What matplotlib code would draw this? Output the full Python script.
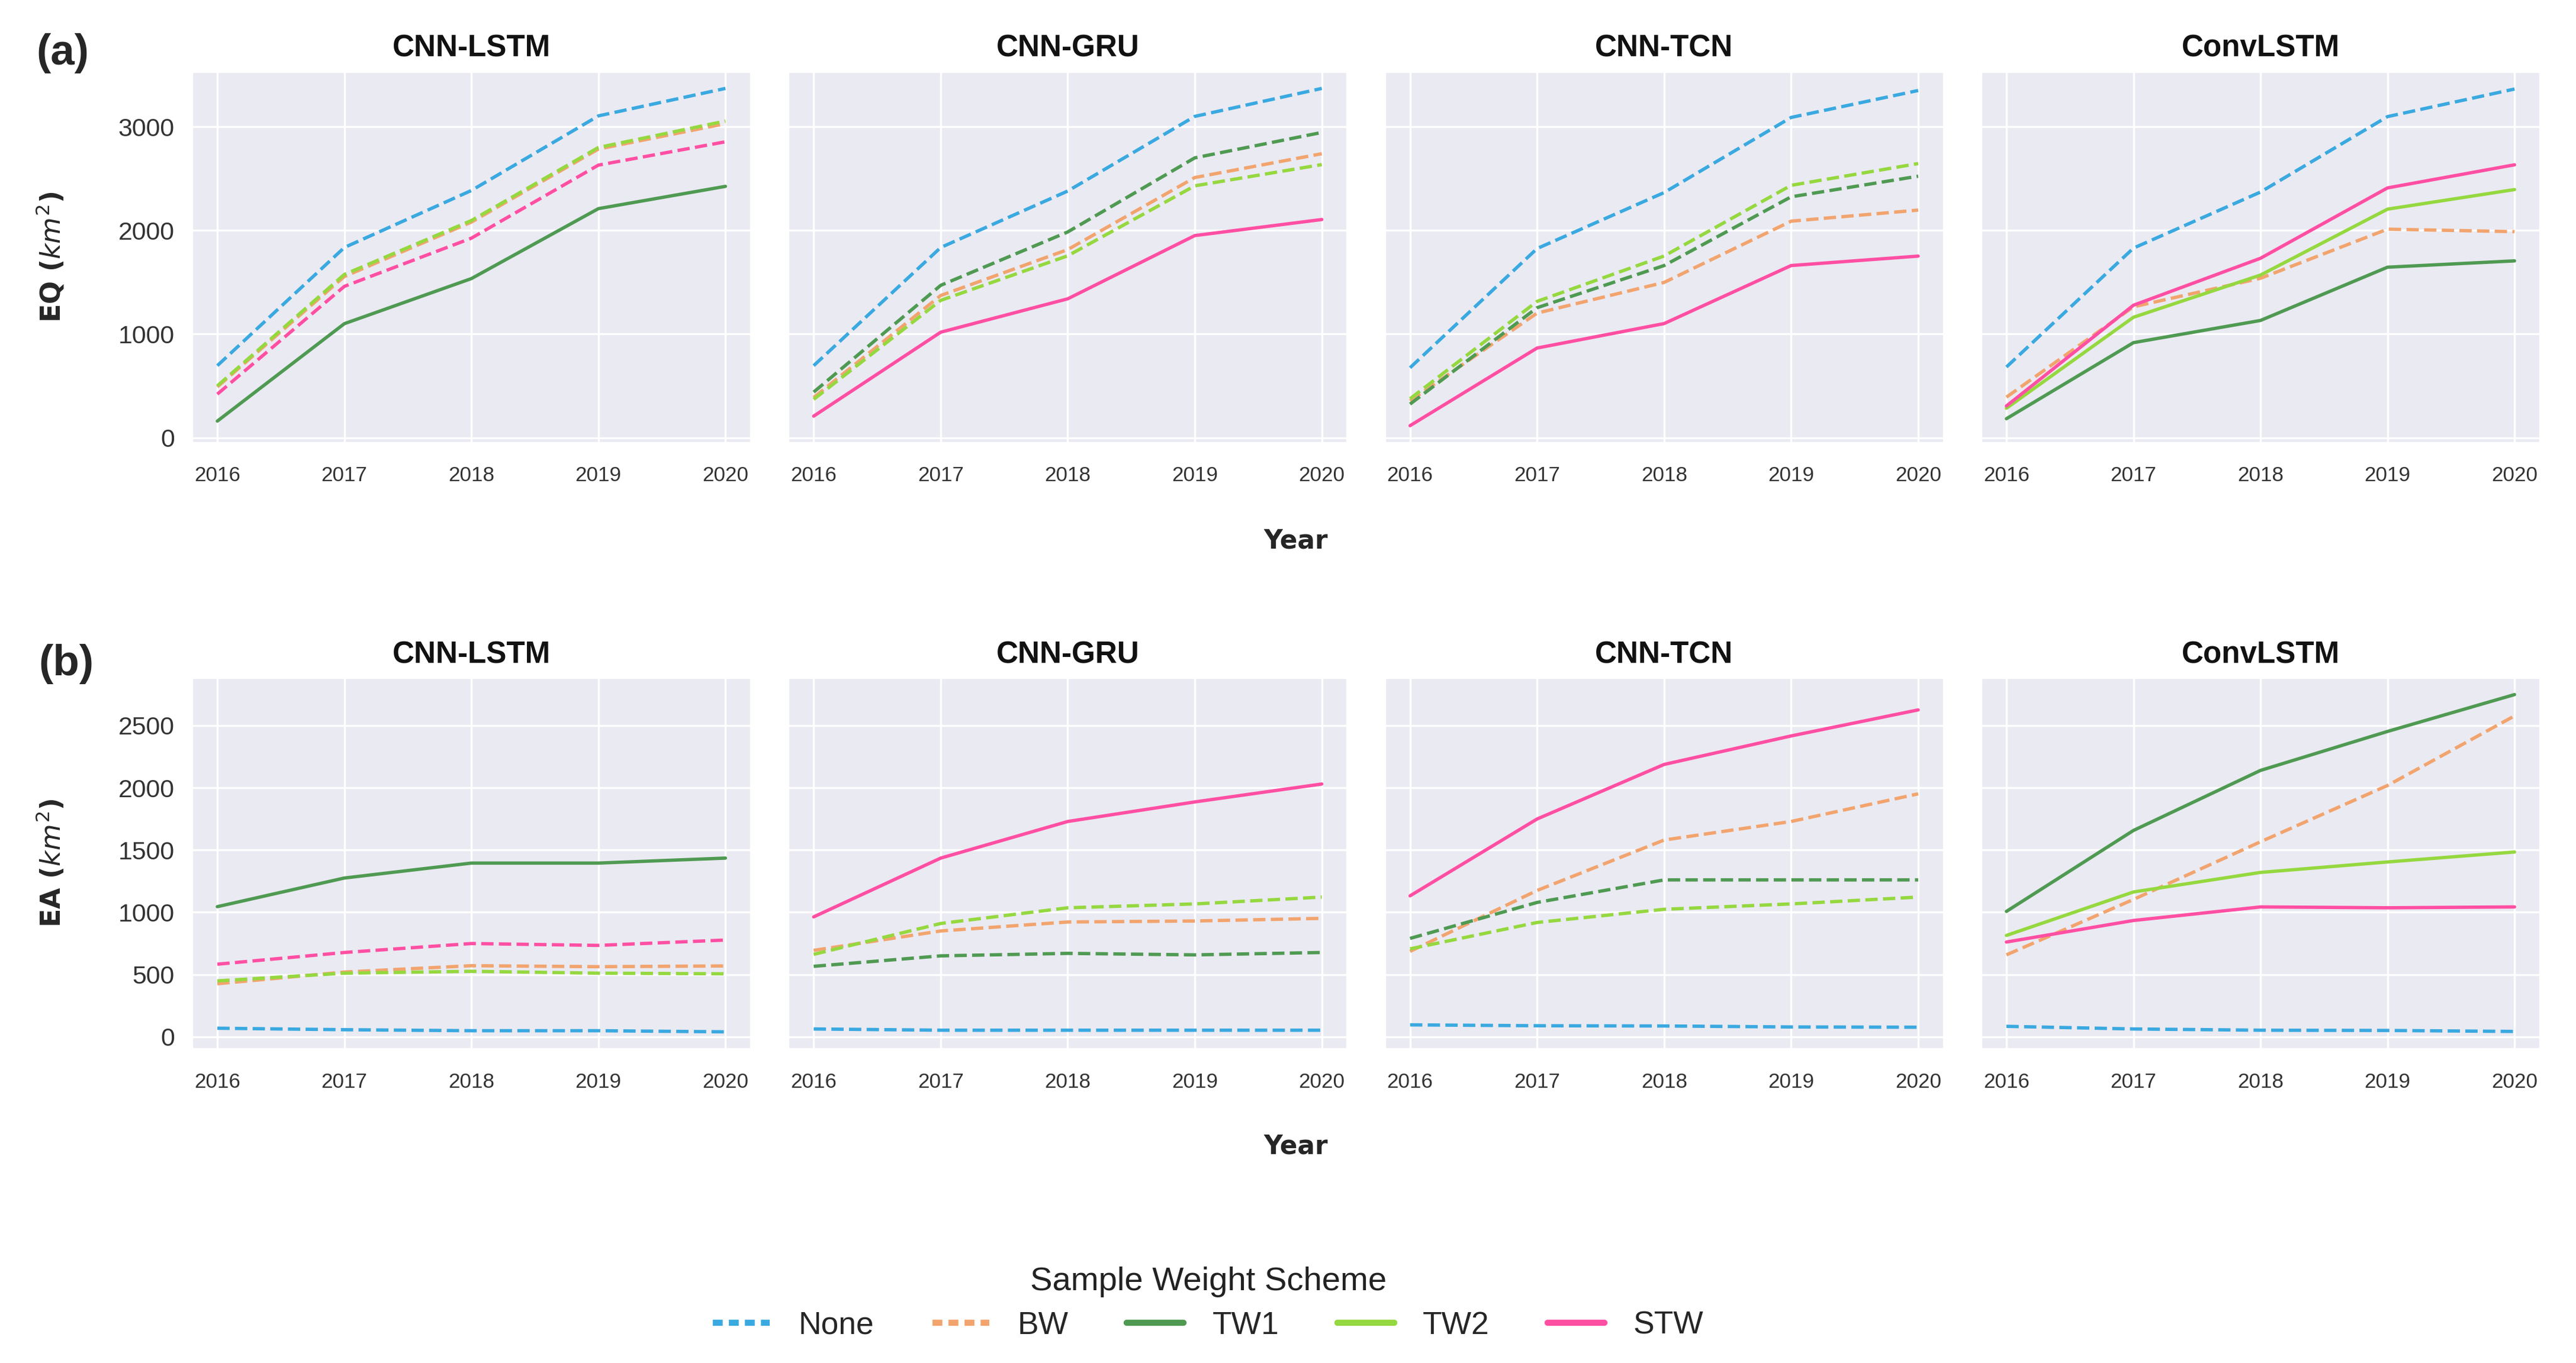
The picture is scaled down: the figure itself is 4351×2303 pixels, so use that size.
import matplotlib
matplotlib.use('Agg')
import matplotlib.pyplot as plt
import seaborn as sns
from matplotlib.lines import Line2D

# x axis and panel names
years = [2016, 2017, 2018, 2019, 2020]
models = ['CNN-LSTM', 'CNN-GRU', 'CNN-TCN', 'ConvLSTM']
schemes = ['None', 'BW', 'TW1', 'TW2', 'STW']

# EQ (km^2), rows follow `schemes`
eq_cnn_lstm = [[695, 1835, 2385, 3105, 3370],
               [490, 1555, 2080, 2785, 3030],
               [160, 1100, 1535, 2210, 2425],
               [500, 1575, 2095, 2800, 3055],
               [420, 1460, 1925, 2630, 2855]]
eq_cnn_gru = [[695, 1835, 2380, 3100, 3370],
              [388, 1372, 1815, 2510, 2740],
              [440, 1470, 1985, 2700, 2945],
              [370, 1325, 1755, 2430, 2635],
              [208, 1018, 1340, 1950, 2105]]
eq_cnn_tcn = [[675, 1825, 2365, 3090, 3350],
              [355, 1202, 1498, 2089, 2196],
              [324, 1254, 1661, 2324, 2523],
              [376, 1315, 1753, 2435, 2645],
              [116, 865, 1101, 1661, 1752]]
eq_convlstm = [[682, 1829, 2370, 3098, 3364],
               [391, 1263, 1538, 2012, 1988],
               [183, 917, 1131, 1645, 1706],
               [284, 1162, 1569, 2205, 2394],
               [306, 1278, 1731, 2410, 2633]]

# EA (km^2), rows follow `schemes`
ea_cnn_lstm = [[69, 57, 49, 49, 40],
               [426, 520, 571, 563, 569],
               [1045, 1275, 1395, 1395, 1435],
               [449, 511, 526, 511, 506],
               [583, 677, 749, 734, 777]]
ea_cnn_gru = [[63, 53, 53, 53, 53],
              [694, 850, 922, 930, 951],
              [566, 650, 670, 658, 677],
              [662, 910, 1036, 1067, 1122],
              [963, 1435, 1729, 1886, 2030]]
ea_cnn_tcn = [[96, 89, 87, 79, 77],
              [686, 1175, 1580, 1729, 1951],
              [790, 1079, 1260, 1260, 1260],
              [706, 918, 1024, 1067, 1122],
              [1132, 1749, 2187, 2416, 2625]]
ea_convlstm = [[84, 63, 53, 51, 43],
               [658, 1103, 1566, 2018, 2577],
               [1007, 1657, 2139, 2452, 2748],
               [814, 1163, 1320, 1404, 1484],
               [761, 934, 1043, 1036, 1043]]

eq_data = [eq_cnn_lstm, eq_cnn_gru, eq_cnn_tcn, eq_convlstm]
ea_data = [ea_cnn_lstm, ea_cnn_gru, ea_cnn_tcn, ea_convlstm]

# schemes drawn with a solid line in each panel
eq_solid = [['TW1'], ['STW'], ['STW'], ['TW1', 'TW2', 'STW']]
ea_solid = [['TW1'], ['STW'], ['STW'], ['TW1', 'TW2', 'STW']]

colors = {'None': '#3aa9e0', 'BW': '#f2a46e', 'TW1': '#4f9a52',
          'TW2': '#95d83f', 'STW': '#ff4fa3'}

sns.set_style('darkgrid')
plt.rcParams['font.family'] = ['Liberation Sans', 'DejaVu Sans']

fig, axes = plt.subplots(2, 4, figsize=(4351 / 300, 2303 / 300), dpi=300, sharey='row')
fig.subplots_adjust(left=0.0745, right=0.986, top=0.9475, bottom=0.2306,
                    wspace=0.067, hspace=0.634)

for row, (data, solid) in enumerate([(eq_data, eq_solid), (ea_data, ea_solid)]):
    for j, m in enumerate(models):
        ax = axes[row, j]
        for k, s in enumerate(schemes):
            ls = '-' if s in solid[j] else '--'
            ax.plot(years, data[j][k], color=colors[s], ls=ls, lw=1.35)
        ax.set_title(m, fontsize=12.3, fontweight='bold', pad=6, color='#111111')
        ax.set_xticks(years)
        ax.tick_params(axis='x', labelsize=8.4, colors='#333333', pad=6)
        ax.tick_params(axis='y', labelsize=10.3, colors='#333333')

axes[0, 0].set_ylabel(r'EQ ($km^2$)', fontsize=11, fontweight='bold', family='DejaVu Sans')
axes[1, 0].set_ylabel(r'EA ($km^2$)', fontsize=11, fontweight='bold', family='DejaVu Sans')
axes[0, 0].yaxis.set_label_coords(-0.225, 0.5)
axes[1, 0].yaxis.set_label_coords(-0.225, 0.5)

fig.text(0.503, 0.603, 'Year', ha='center', va='center', fontsize=10.5,
         fontweight='bold', family='DejaVu Sans')
fig.text(0.503, 0.159, 'Year', ha='center', va='center', fontsize=10.5,
         fontweight='bold', family='DejaVu Sans')
fig.text(0.0244, 0.961, '(a)', ha='center', va='center', fontsize=17.5, fontweight='bold')
fig.text(0.0257, 0.513, '(b)', ha='center', va='center', fontsize=17.5, fontweight='bold')

# legend
handles = [Line2D([0], [0], color=colors[s], lw=2.5,
                  ls=(0, (1.6, 1.0)) if s in ('None', 'BW') else '-') for s in schemes]
fig.text(0.469, 0.0595, 'Sample Weight Scheme', ha='center', va='center',
         fontsize=13.5, color='#222222')
fig.legend(handles, schemes, loc='center', bbox_to_anchor=(0.469, 0.0275), ncol=5,
           frameon=False, fontsize=12.8, handlelength=1.8, handletextpad=0.9,
           columnspacing=1.85)

plt.savefig('out.png', dpi=300)
